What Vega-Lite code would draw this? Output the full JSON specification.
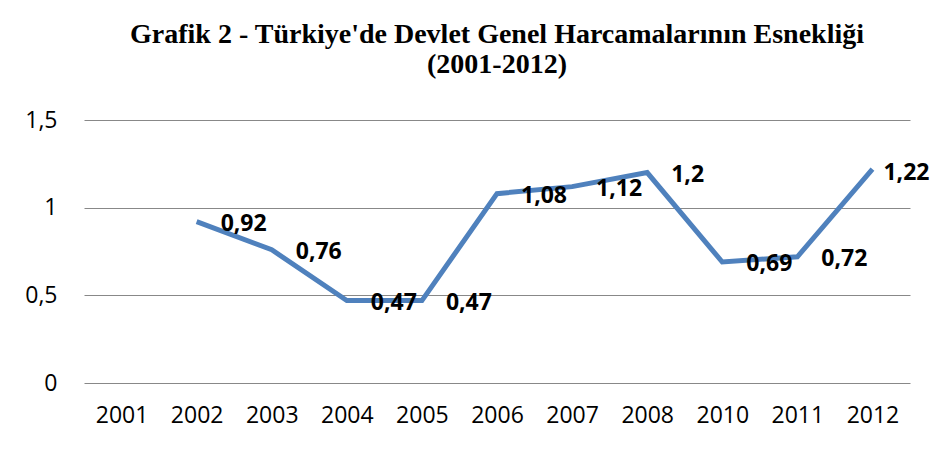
{
  "$schema": "https://vega.github.io/schema/vega-lite/v6.json",
  "width": 826,
  "height": 263,
  "autosize": {"type": "none"},
  "padding": {"left": 84, "top": 120, "right": 24, "bottom": 68},
  "background": "white",
  "config": {
    "locale": {"number": {"decimal": ",", "thousands": ".", "grouping": [3], "currency": ["", " TL"]}},
    "view": {"stroke": null},
    "font": "Open Sans"
  },
  "title": {
    "text": ["Grafik 2 - Türkiye'de Devlet Genel Harcamalarının Esnekliği", "(2001-2012)"],
    "font": "Liberation Serif",
    "fontSize": 28,
    "fontWeight": "bold",
    "color": "black",
    "anchor": "middle",
    "offset": 30,
    "lineHeight": 30
  },
  "data": {
    "values": [
      {"year": "2002", "value": 0.92},
      {"year": "2003", "value": 0.76},
      {"year": "2004", "value": 0.47},
      {"year": "2005", "value": 0.47},
      {"year": "2006", "value": 1.08},
      {"year": "2007", "value": 1.12},
      {"year": "2008", "value": 1.2},
      {"year": "2010", "value": 0.69},
      {"year": "2011", "value": 0.72},
      {"year": "2012", "value": 1.22}
    ]
  },
  "encoding": {
    "x": {
      "field": "year",
      "type": "ordinal",
      "scale": {"type": "point", "padding": 0.5, "domain": ["2001", "2002", "2003", "2004", "2005", "2006", "2007", "2008", "2010", "2011", "2012"]},
      "axis": {"title": null, "labelAngle": 0, "domain": false, "ticks": false, "grid": false, "labelFontSize": 23, "labelColor": "black", "labelPadding": 21, "labelBaseline": "top"}
    },
    "y": {
      "field": "value",
      "type": "quantitative",
      "scale": {"domain": [0, 1.5], "nice": false},
      "axis": {"title": null, "values": [0, 0.5, 1, 1.5], "format": "~g", "domain": false, "ticks": false, "gridColor": "#888888", "gridWidth": 1, "gridOpacity": 1, "labelPadding": 27, "labelFontSize": 23, "labelColor": "black"}
    }
  },
  "layer": [
    {"mark": {"type": "line", "color": "#4F81BD", "strokeWidth": 5}},
    {
      "transform": [{"filter": "datum.year != '2012'"}],
      "mark": {"type": "text", "align": "left", "baseline": "middle", "dx": 24, "dy": 2, "fontWeight": "bold", "fontSize": 23, "color": "black"},
      "encoding": {"text": {"field": "value", "type": "quantitative", "format": "~g"}}
    },
    {
      "transform": [{"filter": "datum.year == '2012'"}],
      "mark": {"type": "text", "align": "left", "baseline": "middle", "dx": 11, "dy": 4, "fontWeight": "bold", "fontSize": 23, "color": "black"},
      "encoding": {"text": {"field": "value", "type": "quantitative", "format": "~g"}}
    }
  ]
}
